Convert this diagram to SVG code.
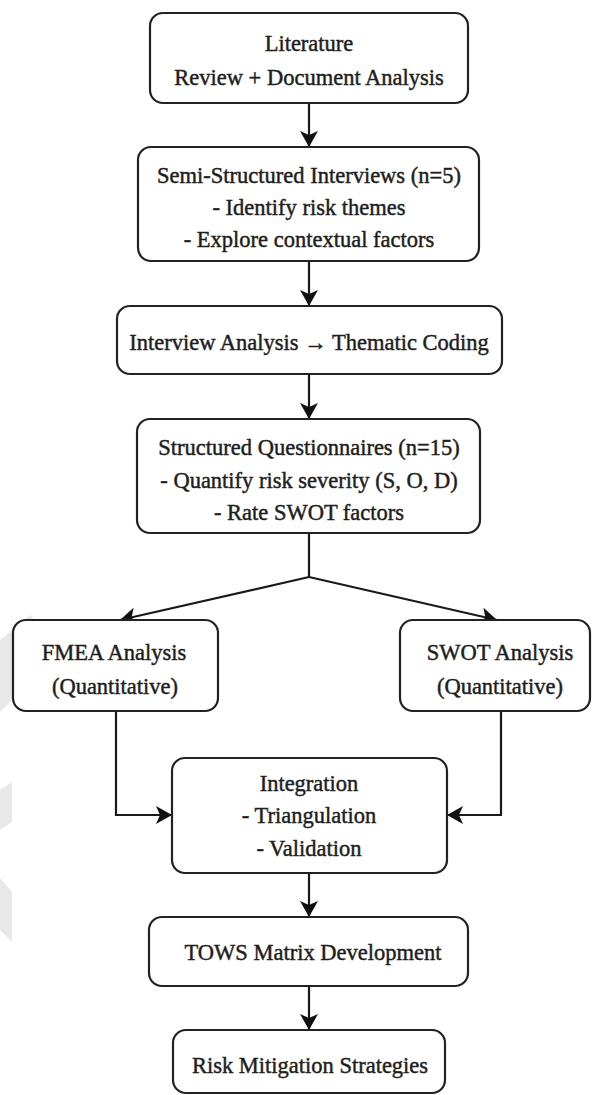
<svg xmlns="http://www.w3.org/2000/svg" width="594" height="1095" viewBox="0 0 594 1095">
  <style>
    .box { fill: #ffffff; stroke: #222222; stroke-width: 2.2; }
    .lbl { font-family: "Liberation Serif", "Times New Roman", serif; font-size: 22.5px; fill: #1e1e1e; stroke: #1e1e1e; stroke-width: 0.45; text-anchor: middle; }
    .edge { fill: none; stroke: #1a1a1a; stroke-width: 2.2; }
    .wm { fill: #e8e8e8; }
  </style>
  <defs>
    <marker id="arrow" viewBox="0 0 16 18" refX="16" refY="9" markerWidth="16" markerHeight="18" markerUnits="userSpaceOnUse" orient="auto">
      <path d="M0,0 L16,9 L0,18 L4,9 z" fill="#111111"/>
    </marker>
  </defs>

  <rect width="594" height="1095" fill="#ffffff"/>

  <!-- faint background marks along the left edge -->
  <g id="background-marks">
    <polygon class="wm" points="0,640 30,615 36,622 12,648 12,700 0,712"/>
    <polygon class="wm" points="0,790 12,782 12,822 0,830"/>
    <polygon class="wm" points="0,878 12,892 12,942 0,930"/>
  </g>

  <!-- connectors -->
  <g id="connectors">
    <line class="edge" x1="309" y1="103" x2="309" y2="147" marker-end="url(#arrow)"/>
    <line class="edge" x1="309" y1="261" x2="309" y2="306" marker-end="url(#arrow)"/>
    <line class="edge" x1="309" y1="374" x2="309" y2="419" marker-end="url(#arrow)"/>
    <line class="edge" x1="309" y1="533" x2="309" y2="577"/>
    <line class="edge" x1="309" y1="577" x2="120" y2="620" marker-end="url(#arrow)"/>
    <line class="edge" x1="309" y1="577" x2="497" y2="620" marker-end="url(#arrow)"/>
    <path class="edge" d="M116,711 V815 H172" marker-end="url(#arrow)"/>
    <path class="edge" d="M501,711 V815 H447" marker-end="url(#arrow)"/>
    <line class="edge" x1="309" y1="873" x2="309" y2="917" marker-end="url(#arrow)"/>
    <line class="edge" x1="309" y1="986" x2="309" y2="1030" marker-end="url(#arrow)"/>
  </g>

  <g id="literature-review">
    <rect class="box" x="150" y="13" width="318" height="90" rx="13"/>
    <text class="lbl" x="309" y="51">Literature</text>
    <text class="lbl" x="309" y="85">Review + Document Analysis</text>
  </g>

  <g id="interviews">
    <rect class="box" x="138" y="147" width="341" height="114" rx="13"/>
    <text class="lbl" x="309" y="183">Semi-Structured Interviews (n=5)</text>
    <text class="lbl" x="309" y="215">- Identify risk themes</text>
    <text class="lbl" x="309" y="247">- Explore contextual factors</text>
  </g>

  <g id="interview-analysis">
    <rect class="box" x="117" y="306" width="385" height="68" rx="13"/>
    <text class="lbl" x="309" y="350">Interview Analysis → Thematic Coding</text>
  </g>

  <g id="questionnaires">
    <rect class="box" x="137" y="419" width="343" height="114" rx="13"/>
    <text class="lbl" x="309" y="455">Structured Questionnaires (n=15)</text>
    <text class="lbl" x="309" y="488">- Quantify risk severity (S, O, D)</text>
    <text class="lbl" x="309" y="520">- Rate SWOT factors</text>
  </g>

  <g id="fmea">
    <rect class="box" x="13" y="620" width="205" height="91" rx="13"/>
    <text class="lbl" x="114" y="660">FMEA Analysis</text>
    <text class="lbl" x="115" y="694">(Quantitative)</text>
  </g>

  <g id="swot">
    <rect class="box" x="400" y="620" width="190" height="91" rx="13"/>
    <text class="lbl" x="500" y="660">SWOT Analysis</text>
    <text class="lbl" x="500" y="694">(Quantitative)</text>
  </g>

  <g id="integration">
    <rect class="box" x="172" y="758" width="275" height="115" rx="13"/>
    <text class="lbl" x="309" y="791">Integration</text>
    <text class="lbl" x="309" y="823">- Triangulation</text>
    <text class="lbl" x="309" y="856">- Validation</text>
  </g>

  <g id="tows">
    <rect class="box" x="149" y="917" width="319" height="69" rx="13"/>
    <text class="lbl" x="313" y="960">TOWS Matrix Development</text>
  </g>

  <g id="mitigation">
    <rect class="box" x="173" y="1030" width="272" height="63" rx="13"/>
    <text class="lbl" x="310" y="1073">Risk Mitigation Strategies</text>
  </g>
</svg>
